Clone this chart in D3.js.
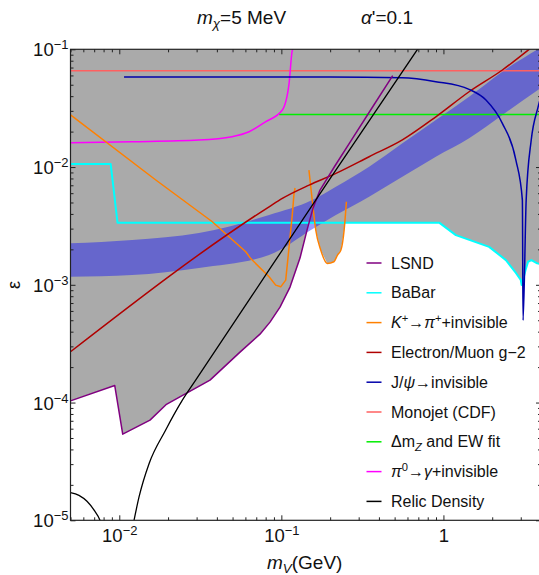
<!DOCTYPE html>
<meta charset="utf-8">
<script src="https://d3js.org/d3.v7.min.js"></script>
<style>
  body { margin: 0; background: #fff; }
  text { font-family: "Liberation Sans", Arial, sans-serif; fill: #111; }
</style>
<div id="chart"></div>
<script>

// ---- data: dark photon mass m_V (GeV) and kinetic mixing epsilon ----
var lsndM   = [0.005, 0.00937, 0.0105, 0.01547, 0.01941, 0.03628, 0.05556, 0.0738, 0.0851, 0.0981, 0.1131, 0.1303, 0.1440, 0.1568, 0.1732, 0.2144, 0.2767, 0.3524, 0.4865];
var lsndEps = [1.034e-4, 1.397e-4, 5.39e-5, 7.09e-5, 9.59e-5, 1.55e-4, 2.68e-4, 3.81e-4, 4.82e-4, 6.46e-4, 9.56e-4, 1.685e-3, 2.915e-3, 4.48e-3, 6.38e-3, 0.01026, 0.01778, 0.02991, 0.0597];

var babarM   = [0.005, 0.00885, 0.00975, 0.941, 1.193, 1.914, 2.43, 2.80, 3.00, 3.04, 3.10, 3.21, 3.33, 3.49, 3.79, 4];
var babarEps = [0.0106, 0.0106, 3.37e-3, 3.37e-3, 2.64e-3, 2.10e-3, 1.62e-3, 1.26e-3, 1.10e-3, 9.94e-4, 1.10e-3, 1.33e-3, 1.57e-3, 1.62e-3, 1.52e-3, 1.50e-3];

var kaonM1   = [0.005, 0.0168, 0.0375, 0.0475, 0.0603, 0.0647, 0.084, 0.0923, 0.0991, 0.1064, 0.1116, 0.117, 0.1198, 0.1215];
var kaonEps1 = [0.0277, 0.00776, 0.00343, 0.00256, 0.00191, 0.00167, 0.00117, 0.000993, 0.000961, 0.001096, 0.0021, 0.00404, 0.00600, 0.00664];
var kaonM2   = [0.148, 0.155, 0.163, 0.175, 0.192, 0.211, 0.222, 0.233, 0.244, 0.252];
var kaonEps2 = [0.00943, 0.00525, 0.00292, 0.00197, 0.00152, 0.00157, 0.00179, 0.00197, 0.00292, 0.00507];

var g2M   = [0.005, 0.084, 0.1014, 0.1483, 0.217, 0.348, 0.558, 0.898, 1.44, 2.31, 3.38, 4];
var g2Eps = [2.70e-4, 4.60e-3, 5.42e-3, 7.03e-3, 8.83e-3, 0.01224, 0.0170, 0.0267, 0.0436, 0.0667, 0.1, 0.12];

var jpsiM   = [0.0107, 0.2, 0.556, 0.897, 1.44, 1.83, 2.31, 2.80, 3.07, 3.10, 3.24, 3.48, 3.84, 4];
var jpsiEps = [0.0582, 0.0582, 0.0574, 0.0531, 0.0457, 0.0371, 0.0235, 0.01146, 0.00524, 5.0e-4, 0.00524, 0.0169, 0.0324, 0.04];

var monojetM = [0.005, 4],    monojetEps = [0.0658, 0.0658];
var ewM      = [0.097, 4],    ewEps      = [0.0280, 0.0280];

var pi0M   = [0.005, 0.01197, 0.031, 0.0496, 0.0632, 0.0802, 0.1014, 0.1116, 0.117, 0.118];
var pi0Eps = [0.0161, 0.0164, 0.01694, 0.0181, 0.01995, 0.0243, 0.0305, 0.0514, 0.0987, 0.1];

var relicM   = [0.01233, 0.01324, 0.01528, 0.0193, 0.0245, 0.0296, 0.084, 0.197, 0.692, 0.8];
var relicEps = [1e-5, 1.58e-5, 3.04e-5, 5.82e-5, 1.047e-4, 1.55e-4, 1.337e-3, 7.76e-3, 0.1, 0.134];
var relicLowM   = [0.005, 0.00564, 0.00632, 0.00699, 0.0076, 0.0078];
var relicLowEps = [1.72e-5, 1.63e-5, 1.45e-5, 1.22e-5, 1e-5, 9e-6];

// blue band
var bandM     = [0.005, 0.012, 0.031, 0.084, 0.155, 0.217, 0.348, 0.558, 0.898, 1.44, 2.31, 4];
var bandUpper = [2.25e-3, 2.40e-3, 2.75e-3, 3.92e-3, 5.25e-3, 6.81e-3, 0.01006, 0.0159, 0.0251, 0.0396, 0.0646, 0.104];
var bandLower = [1.17e-3, 1.21e-3, 1.39e-3, 1.79e-3, 2.97e-3, 3.91e-3, 5.60e-3, 8.27e-3, 0.01224, 0.01754, 0.0277, 0.047];

// lower edge of the combined excluded (gray) region
var excludedM   = [0.005, 0.00937, 0.0105, 0.01547, 0.01941, 0.03628, 0.05556, 0.0738, 0.0851, 0.0981, 0.1131, 0.1303, 0.1440, 0.1482, 0.162, 0.163, 0.175, 0.192, 0.211, 0.222, 0.233, 0.244, 0.2455, 0.941, 1.193, 1.914, 2.43, 2.80, 3.00, 3.06, 3.10, 3.14, 3.21, 3.33, 3.49, 3.79, 4];
var excludedEps = [1.034e-4, 1.397e-4, 5.39e-5, 7.09e-5, 9.59e-5, 1.55e-4, 2.68e-4, 3.81e-4, 4.82e-4, 6.46e-4, 9.56e-4, 1.685e-3, 2.915e-3, 3.37e-3, 3.37e-3, 2.92e-3, 1.97e-3, 1.52e-3, 1.57e-3, 1.79e-3, 1.97e-3, 2.92e-3, 3.37e-3, 3.37e-3, 2.64e-3, 2.10e-3, 1.62e-3, 1.26e-3, 1.10e-3, 1.0e-3, 5.0e-4, 1.05e-3, 1.33e-3, 1.57e-3, 1.62e-3, 1.52e-3, 1.50e-3];

// axes ticks
var xMajor = [0.01, 0.1, 1];
var xMajorLabels = [["10", "\u22122"], ["10", "\u22121"], ["1", ""]];
var xMinor = [0.005, 0.006, 0.007, 0.008, 0.009, 0.02, 0.03, 0.04, 0.05, 0.06, 0.07, 0.08, 0.09,
              0.2, 0.3, 0.4, 0.5, 0.6, 0.7, 0.8, 0.9, 2, 3, 4];
var yMajor = [1e-5, 1e-4, 1e-3, 1e-2, 1e-1];
var yMajorLabels = [["10", "\u22125"], ["10", "\u22124"], ["10", "\u22123"], ["10", "\u22122"], ["10", "\u22121"]];
var yMinor = [];
[1e-5, 1e-4, 1e-3, 1e-2].forEach(function(d) {
  for (var k = 2; k <= 9; k++) yMinor.push(+(d * k).toPrecision(3));
});

// legend
var legendColors = ["#800080", "#00ffff", "#ff8000", "#b00000", "#0000aa", "#ff6060", "#00ee00", "#ff00ff", "#000000"];
var legendLabels = [
  [{t: "LSND"}],
  [{t: "BaBar"}],
  [{t: "K", i: 1}, {t: "+", sup: 1}, {t: "\u2192"}, {t: "\u03c0", i: 1}, {t: "+", sup: 1}, {t: "+invisible"}],
  [{t: "Electron/Muon g\u22122"}],
  [{t: "J/"}, {t: "\u03c8", i: 1}, {t: "\u2192invisible"}],
  [{t: "Monojet (CDF)"}],
  [{t: "\u0394m"}, {t: "Z", i: 1, sub: 1}, {t: " and EW fit"}],
  [{t: "\u03c0", i: 1}, {t: "0", sup: 1}, {t: "\u2192"}, {t: "\u03b3", i: 1}, {t: "+invisible"}],
  [{t: "Relic Density"}]
];

// ---- layout ----
var W = 539, H = 575;
var x = d3.scaleLog().domain([0.005, 4]).range([70.5, 541]);
var y = d3.scaleLog().domain([1e-5, 0.1]).range([520.3, 49.3]);
var x0 = x.range()[0], x1 = x.range()[1], yTop = y.range()[1], yBot = y.range()[0];

var svg = d3.select("#chart").append("svg")
  .attr("width", W).attr("height", H);

svg.append("defs").append("clipPath").attr("id", "plotclip")
  .append("rect").attr("x", x0).attr("y", yTop).attr("width", x1 - x0).attr("height", yBot - yTop);

var plot = svg.append("g").attr("clip-path", "url(#plotclip)");

function pairs(ms, es) { return ms.map(function(m, i) { return [m, es[i]]; }); }

// gray excluded region
var edge = pairs(excludedM, excludedEps).concat([[4, 0.1], [0.005, 0.1]]);
plot.append("path")
  .attr("d", d3.line().x(function(d) { return x(d[0]); }).y(function(d) { return y(d[1]); })(edge) + "Z")
  .attr("fill", "#aaaaaa");

// blue band
plot.append("path")
  .datum(bandM.map(function(m, i) { return {m: m, lo: bandLower[i], hi: bandUpper[i]}; }))
  .attr("d", d3.area().curve(d3.curveMonotoneX)
    .x(function(d) { return x(d.m); })
    .y0(function(d) { return y(d.lo); })
    .y1(function(d) { return y(d.hi); }))
  .attr("fill", "#0000ff").attr("fill-opacity", 0.4);

function drawLine(ms, es, color, curve, w) {
  plot.append("path")
    .datum(pairs(ms, es))
    .attr("d", d3.line().curve(curve || d3.curveLinear)
      .x(function(d) { return x(d[0]); }).y(function(d) { return y(d[1]); }))
    .attr("fill", "none").attr("stroke", color).attr("stroke-width", w || 1.5)
    .attr("stroke-linejoin", "round");
}

drawLine(monojetM, monojetEps, legendColors[5]);
drawLine(ewM, ewEps, legendColors[6]);
drawLine(pi0M, pi0Eps, legendColors[7], d3.curveMonotoneX);
drawLine(babarM, babarEps, legendColors[1], d3.curveLinear, 2);
drawLine(kaonM1, kaonEps1, legendColors[2]);
drawLine(kaonM2, kaonEps2, legendColors[2], d3.curveMonotoneX);
drawLine(g2M, g2Eps, legendColors[3], d3.curveMonotoneX);
drawLine(jpsiM, jpsiEps, legendColors[4], d3.curveMonotoneX);
drawLine(lsndM, lsndEps, legendColors[0]);
drawLine(relicM, relicEps, legendColors[8], d3.curveMonotoneX, 1.3);
drawLine(relicLowM, relicLowEps, legendColors[8], d3.curveMonotoneX, 1.3);

// ---- frame and ticks ----
var frame = svg.append("g");
frame.append("rect").attr("x", x0).attr("y", yTop).attr("width", x1 - x0).attr("height", yBot - yTop)
  .attr("fill", "none").attr("stroke", "#222").attr("stroke-width", 1.2);

function ticks(axisFn, scale, vals, size, tx, ty) {
  var g = svg.append("g").attr("transform", "translate(" + tx + "," + ty + ")")
    .call(axisFn(scale).tickValues(vals).tickSize(size).tickFormat(""));
  g.select(".domain").remove();
  g.selectAll(".tick line").attr("stroke", "#222");
  return g;
}
ticks(d3.axisBottom, x, xMinor, -3, 0, yBot);
ticks(d3.axisTop, x, xMinor, -3, 0, yTop);
ticks(d3.axisTop, x, xMajor, -5, 0, yTop);
ticks(d3.axisLeft, y, yMinor, -3, x0, 0);
ticks(d3.axisRight, y, yMinor, -3, x1, 0);
ticks(d3.axisRight, y, yMajor, -5, x1, 0);

var xa = ticks(d3.axisBottom, x, xMajor, -5, 0, yBot);
xa.selectAll(".tick text").each(function(d, i) {
  var t = d3.select(this).attr("y", 22).attr("dy", null).style("font-size", "18.5px");
  t.append("tspan").text(xMajorLabels[i][0]);
  if (xMajorLabels[i][1]) t.append("tspan").attr("dy", -7).style("font-size", "13px").text(xMajorLabels[i][1]);
});
var ya = ticks(d3.axisLeft, y, yMajor, -5, x0, 0);
ya.selectAll(".tick text").each(function(d, i) {
  var t = d3.select(this).attr("x", -2).attr("dy", "0.36em").style("font-size", "18.5px");
  t.append("tspan").text(yMajorLabels[i][0]);
  t.append("tspan").attr("dy", -7).style("font-size", "13px").text(yMajorLabels[i][1]);
});

// rich text helper (italic / super / subscript)
function rich(textSel, parts) {
  var shift = 0;
  parts.forEach(function(p) {
    var ts = textSel.append("tspan").text(p.t);
    var target = p.sup ? -6 : (p.sub ? 4 : 0);
    if (target !== shift) { ts.attr("dy", target - shift); shift = target; }
    if (p.i) ts.style("font-style", "italic");
    if (p.sup || p.sub) ts.style("font-size", "0.7em");
  });
}

// titles
rich(svg.append("text").attr("x", 197).attr("y", 24).style("font-size", "19px"),
  [{t: "m", i: 1}, {t: "\u03c7", i: 1, sub: 1}, {t: "=5 MeV"}]);
rich(svg.append("text").attr("x", 361).attr("y", 24).style("font-size", "19px"),
  [{t: "\u03b1", i: 1}, {t: "'=0.1"}]);
rich(svg.append("text").attr("x", 267).attr("y", 569).style("font-size", "19px"),
  [{t: "m", i: 1}, {t: "V", i: 1, sub: 1}, {t: "(GeV)"}]);
svg.append("text").attr("transform", "translate(20,285) rotate(-90)")
  .attr("text-anchor", "middle").style("font-size", "18px").text("\u03b5");

// legend
var legend = svg.append("g").attr("transform", "translate(366.5,263)");
legendLabels.forEach(function(parts, i) {
  var row = legend.append("g").attr("transform", "translate(0," + (i * 29.8) + ")");
  row.append("line").attr("x1", 0).attr("x2", 15).attr("y1", 0).attr("y2", 0)
    .attr("stroke", legendColors[i]).attr("stroke-width", 1.5);
  rich(row.append("text").attr("x", 24.5).attr("y", 5.5).style("font-size", "16px"), parts);
});

</script>
